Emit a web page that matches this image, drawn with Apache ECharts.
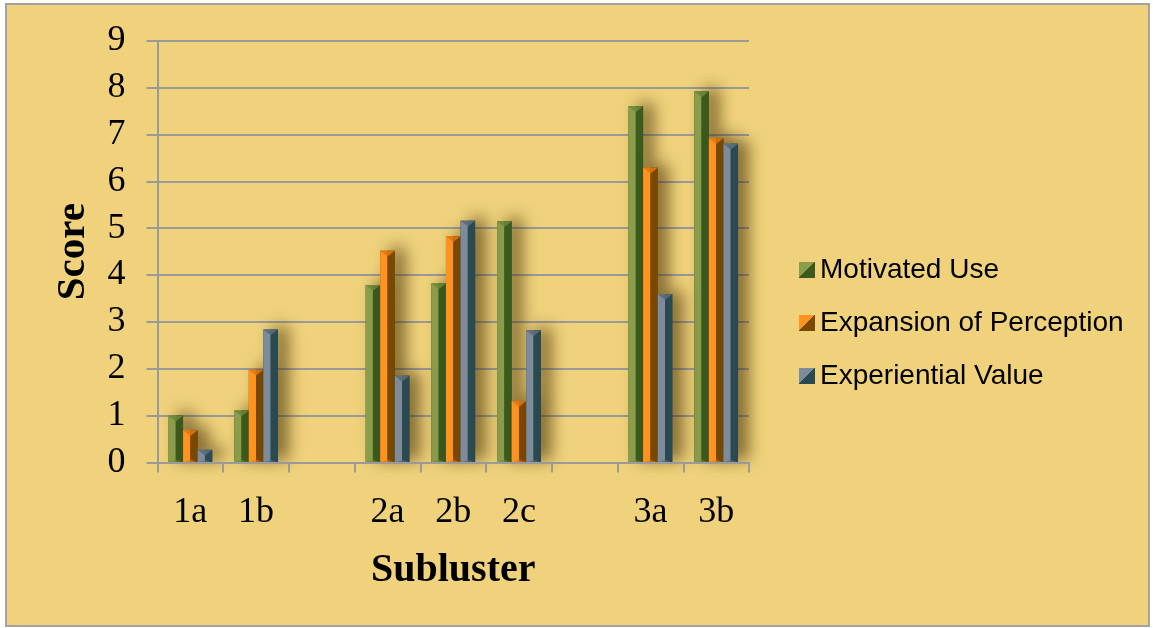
<!DOCTYPE html>
<html>
<head>
<meta charset="utf-8">
<script src="https://cdn.jsdelivr.net/npm/echarts@6/dist/echarts.min.js"></script>
<style>
html,body{margin:0;padding:0;background:#fff;}
#chart{width:1153px;height:628px;}
</style>
</head>
<body>
<div id="chart"></div>
<script>
// ---- data ----
var categories = ['1a', '1b', '', '2a', '2b', '2c', '', '3a', '3b'];
var motivatedUse = [1.0, 1.11, null, 3.79, 3.82, 5.15, null, 7.6, 7.92];
var expansionOfPerception = [0.69, 1.98, null, 4.52, 4.83, 1.31, null, 6.29, 6.92];
var experientialValue = [0.27, 2.84, null, 1.85, 5.16, 2.82, null, 3.59, 6.80];
var seriesNames = ['Motivated Use', 'Expansion of Perception', 'Experiential Value'];
var yTicks = [0, 1, 2, 3, 4, 5, 6, 7, 8, 9];

// ---- styles ----
var palettes = [
  {light: '#8b9d4b', mid: '#6f8a3b', dark: '#3b5a1d'},
  {light: '#ff931f', mid: '#e57a10', dark: '#7a4900'},
  {light: '#7d8b9b', mid: '#5e6e7c', dark: '#2b4950'}
];

function makeRender(si) {
  var p = palettes[si];
  return function (params, api) {
    var v = api.value(1);
    if (v === null || v === undefined || isNaN(v)) return;
    var cat = api.value(0);
    var bandW = api.size([1, 0])[0];
    var bw = bandW * 0.222;
    var base = api.coord([cat, 0]);
    var topP = api.coord([cat, v]);
    var x0 = base[0] - 1.5 * bw + si * bw;
    var y0 = base[1], y1 = topP[1];
    var h = y0 - y1;
    var xm = x0 + bw / 2;
    var tri = Math.min(bw * 0.4, h);
    return {
      type: 'group',
      children: [
        {type: 'rect', shape: {x: x0, y: y1, width: bw, height: h},
         style: {fill: p.dark, shadowBlur: 16, shadowOffsetX: 10, shadowOffsetY: -3, shadowColor: 'rgba(60,40,0,0.65)'}},
        {type: 'rect', shape: {x: x0, y: y1, width: bw / 2, height: h}, style: {fill: p.light}},
        {type: 'rect', shape: {x: xm, y: y1, width: bw / 2, height: h}, style: {fill: p.dark}},
        {type: 'polygon', shape: {points: [[x0, y1], [xm, y1], [xm, y1 + tri]]}, style: {fill: p.mid}},
        {type: 'polygon', shape: {points: [[xm, y1], [x0 + bw, y1], [xm, y1 + tri]]}, style: {fill: p.mid, opacity: 0.85}},
        {type: 'polygon', shape: {points: [[x0, y0], [x0 + bw, y0], [xm, y0 - Math.min(tri, 3)]]}, style: {fill: p.mid, opacity: 0.6}}
      ]
    };
  };
}

function toPairs(arr) {
  return arr.map(function (v, i) { return [i, v]; });
}

var seriesData = [motivatedUse, expansionOfPerception, experientialValue];

var chart = echarts.init(document.getElementById('chart'), null, {renderer: 'canvas'});
var option = {
  backgroundColor: '#ffffff',
  animation: false,
  graphic: [{
    type: 'rect', z: -10, silent: true,
    shape: {x: 6, y: 4, width: 1143, height: 622},
    style: {fill: '#efd27b', stroke: '#a3a3a3', lineWidth: 2}
  }],
  grid: {left: 157.5, right: 404, top: 40.7, bottom: 165.5, containLabel: false},
  legend: {
    orient: 'vertical',
    left: 799,
    top: 256,
    padding: 0,
    itemWidth: 16,
    itemHeight: 16,
    itemGap: 25,
    icon: 'rect',
    textStyle: {fontFamily: 'Liberation Sans, Arial, sans-serif', fontSize: 28, color: '#000'},
    data: seriesNames.map(function (n, i) {
      return {
        name: n,
        itemStyle: {
          color: new echarts.graphic.LinearGradient(0, 0, 1, 1, [
            {offset: 0, color: palettes[i].light},
            {offset: 0.5, color: palettes[i].light},
            {offset: 0.5, color: palettes[i].dark},
            {offset: 1, color: palettes[i].dark}
          ])
        }
      };
    })
  },
  xAxis: {
    type: 'category',
    data: categories,
    name: 'Subluster',
    nameLocation: 'middle',
    nameGap: 88,
    nameTextStyle: {fontFamily: 'Liberation Serif, Times New Roman, serif', fontWeight: 'bold', fontSize: 40, color: '#000'},
    axisLine: {lineStyle: {color: '#9a9a9a', width: 2}},
    axisTick: {show: true, length: 10, lineStyle: {color: '#9a9a9a', width: 2}},
    axisLabel: {fontFamily: 'Liberation Serif, Times New Roman, serif', fontSize: 36, color: '#000', margin: 32, interval: 0},
    z: 5
  },
  yAxis: {
    type: 'value',
    min: yTicks[0],
    max: yTicks[yTicks.length - 1],
    interval: 1,
    name: 'Score',
    nameLocation: 'middle',
    nameGap: 64,
    nameRotate: 90,
    nameTextStyle: {fontFamily: 'Liberation Serif, Times New Roman, serif', fontWeight: 'bold', fontSize: 41, color: '#000'},
    axisLine: {show: true, lineStyle: {color: '#9a9a9a', width: 2}},
    axisTick: {show: true, length: 11, lineStyle: {color: '#9a9a9a', width: 2}},
    axisLabel: {fontFamily: 'Liberation Serif, Times New Roman, serif', fontSize: 36, color: '#000', margin: 32},
    splitLine: {show: true, lineStyle: {color: '#9a9a9a', width: 2}}
  },
  series: seriesNames.map(function (n, i) {
    return {
      name: n,
      type: 'custom',
      renderItem: makeRender(i),
      encode: {x: 0, y: 1},
      itemStyle: {color: palettes[i].light},
      data: toPairs(seriesData[i]),
      z: 3
    };
  })
};
chart.setOption(option);
</script>
</body>
</html>
